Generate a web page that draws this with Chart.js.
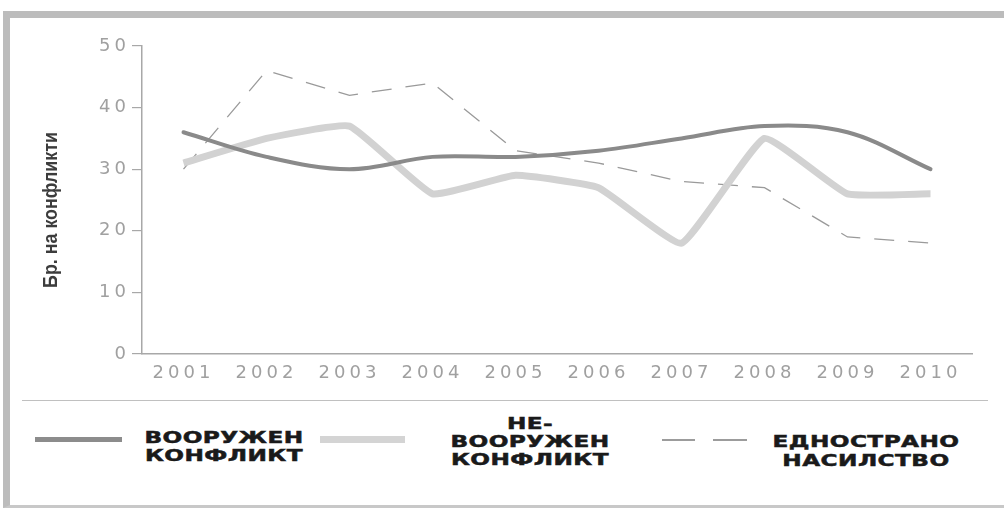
<!DOCTYPE html>
<html>
<head>
<meta charset="utf-8">
<script src="https://cdn.jsdelivr.net/npm/chart.js@4.4.0/dist/chart.umd.min.js"></script>
<style>
  html, body { margin: 0; padding: 0; background: #fff; }
  #page { position: relative; width: 1004px; height: 510px; overflow: hidden; background: #fff; }
  #frame {
    position: absolute; left: 3px; top: 11px; right: 0; bottom: 2px;
    border-top: 7px solid #bcbcbc; border-left: 7px solid #bcbcbc; border-bottom: 3px solid #c8c8c8;
  }
  #wrap { position: absolute; left: 0; top: 0; width: 1004px; height: 400px; }
  #sep { position: absolute; left: 22px; top: 400px; width: 966px; height: 0; border-top: 1.5px solid #c0c0c0; }
  #ytitle {
    position: absolute; left: -50px; top: 199px; width: 200px; text-align: center;
    font-family: "Liberation Sans", "DejaVu Sans", sans-serif; font-weight: bold;
    font-size: 21px; color: #3c3c3c; transform: rotate(-90deg) scaleX(0.85); line-height: 22px;
  }
  .sw { position: absolute; }
  .lg {
    position: absolute; text-align: center; white-space: nowrap;
    font-family: "DejaVu Sans", sans-serif; font-weight: bold; font-size: 16px;
    line-height: 18px; letter-spacing: 0.3px; color: #1a1a1a;
    -webkit-text-stroke: 0.5px #1a1a1a;
    transform: translateX(-50%) scaleX(1.45);
  }
</style>
</head>
<body>
<div id="page">
  <div id="frame"></div>
  <div id="wrap"><canvas id="grafik"></canvas></div>
  <div id="ytitle">Бр. на конфликти</div>
  <div id="sep"></div>

  <div class="sw" style="left:35px;top:437px;width:87px;height:5px;background:#8c8c8c"></div>
  <div class="lg" style="left:224px;top:429px">ВООРУЖЕН<br>КОНФЛИКТ</div>

  <div class="sw" style="left:320px;top:436px;width:85px;height:7px;background:#d4d4d4"></div>
  <div class="lg" style="left:530px;top:415px">НЕ-<br>ВООРУЖЕН<br>КОНФЛИКТ</div>

  <div class="sw" style="left:662px;top:439px;width:33px;height:2px;background:#9c9c9c"></div>
  <div class="sw" style="left:713px;top:439px;width:34px;height:2px;background:#9c9c9c"></div>
  <div class="lg" style="left:866px;top:432px;line-height:19px">ЕДНОСТРАНО<br>НАСИЛСТВО</div>
</div>

<script>
// podaci procitani sa slike
const godine = ['2001', '2002', '2003', '2004', '2005', '2006', '2007', '2008', '2009', '2010'];
const vooruzhen = [36, 32, 30, 32, 32, 33, 35, 37, 36, 30];
const nevooruzhen = [31, 35, 37, 26, 29, 27, 18, 35, 26, 26];
const ednostrano = [30, 46, 42, 44, 33, 31, 28, 27, 19, 18];
const yTicks = [0, 10, 20, 30, 40, 50];

document.addEventListener('DOMContentLoaded', function () {
    const canvas = document.getElementById('grafik');
    const ctx = canvas.getContext('2d');

    // razmak izmedju slova za brojke na osama (siroki font na originalu)
    const razmak = {
        id: 'razmak',
        beforeDraw(chart) { chart.ctx.letterSpacing = '4px'; }
    };

    new Chart(ctx, {
        type: 'line',
        data: {
            labels: godine,
            datasets: [
                {
                    label: 'ВООРУЖЕН КОНФЛИКТ',
                    data: vooruzhen,
                    borderColor: '#8a8a8a',
                    borderWidth: 4,
                    tension: 0.35,
                    pointRadius: 0,
                    borderCapStyle: 'round'
                },
                {
                    label: 'НЕ-ВООРУЖЕН КОНФЛИКТ',
                    data: nevooruzhen,
                    borderColor: '#d2d2d2',
                    borderWidth: 7,
                    tension: 0.12,
                    pointRadius: 0,
                    borderJoinStyle: 'round'
                },
                {
                    label: 'ЕДНОСТРАНО НАСИЛСТВО',
                    data: ednostrano,
                    borderColor: '#9a9a9a',
                    borderWidth: 1.3,
                    borderDash: [20, 14],
                    tension: 0,
                    pointRadius: 0
                }
            ]
        },
        options: {
            responsive: true,
            maintainAspectRatio: false,
            animation: false,
            layout: { padding: { top: 46, right: 32, left: 0, bottom: 0 } },
            plugins: {
                legend: { display: false },
                tooltip: { enabled: false }
            },
            scales: {
                x: {
                    offset: true,
                    grid: { display: false },
                    border: { display: true, color: '#a8a8a8', width: 1.5 },
                    ticks: {
                        color: '#a0a0a0',
                        padding: 1,
                        maxRotation: 0,
                        autoSkip: false,
                        font: { family: 'DejaVu Sans', size: 18 }
                    },
                    afterFit: function (scale) { scale.height = 46; }
                },
                y: {
                    min: 0,
                    max: 50,
                    afterBuildTicks: function (scale) {
                        scale.ticks = yTicks.map(v => ({ value: v }));
                    },
                    grid: {
                        drawOnChartArea: false,
                        drawTicks: true,
                        tickLength: 10,
                        color: '#a8a8a8',
                        lineWidth: 1.2
                    },
                    border: { display: true, color: '#a8a8a8', width: 1.5 },
                    ticks: {
                        color: '#a0a0a0',
                        padding: 2,
                        font: { family: 'DejaVu Sans', size: 18 }
                    },
                    afterFit: function (scale) { scale.width = 142; }
                }
            }
        },
        plugins: [razmak]
    });
});
</script>
</body>
</html>
